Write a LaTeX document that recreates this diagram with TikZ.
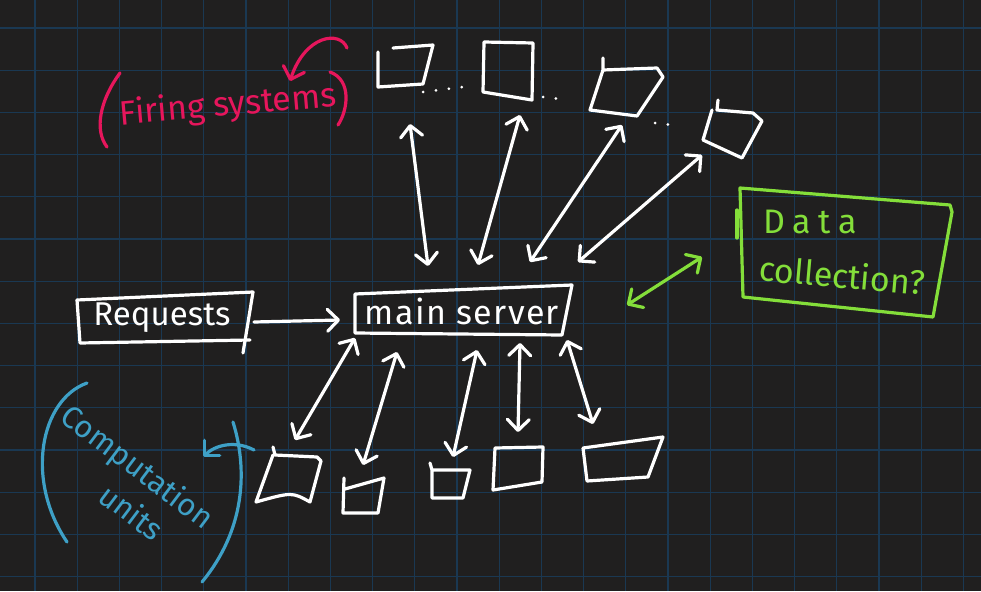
\documentclass[tikz,border=0pt]{standalone}
\usepackage{fontspec}
\setmainfont{Fira Sans}
\usetikzlibrary{arrows.meta}
\definecolor{bgc}{RGB}{32,31,31}
\definecolor{gridc}{RGB}{26,56,82}
\definecolor{pinkc}{RGB}{230,22,92}
\definecolor{bluec}{RGB}{62,160,198}
\definecolor{greenc}{RGB}{132,222,58}
\begin{document}
\begin{tikzpicture}[x=1pt,y=-1pt,
  ink/.style={white,line width=3.2pt,line cap=round,line join=round},
  pinkink/.style={ink,draw=pinkc},
  blueink/.style={ink,draw=bluec},
  greenink/.style={ink,draw=greenc},
  barb/.tip={Straight Barb[length=11pt,width=22pt,line cap=round,line join=round]},
  twoway/.style={ink,barb-barb},
  oneway/.style={ink,-barb},
  label/.style={inner sep=0pt,text=white,font=\fontsize{33}{36}\selectfont},
  dots/.style={white,line width=3pt,line cap=round,dash pattern=on 0pt off 13pt}]
\fill[bgc] (0,0) rectangle (981,591);
\useasboundingbox (0,0) rectangle (981,591);
\foreach \i in {0,...,22} \draw[gridc,line width=1.2pt] ({35+42.2*\i},0) -- ({35+42.2*\i},591);
\foreach \i in {0,...,13} \draw[gridc,line width=1.2pt] (0,{28+42.2*\i}) -- (981,{28+42.2*\i});

% ---------- top boxes (firing systems) ----------
\draw[ink] (378,52) -- (378,87) -- (423,84) -- (433,45) -- (393,48);
\draw[ink] (484,42) -- (533,43) -- (532,100) -- (483,92) -- cycle;
\draw[ink] (603,58) -- (603,70) -- (657,68) -- (663,77) -- (637,116) -- (590,110) -- (603,70);
\draw[ink] (718,100) -- (717,110) -- (753,113) -- (762,121) -- (742,158) -- (703,140) -- (712,110);
\draw[dots] (423,92) -- (470,86);
\draw[dots] (543,97) -- (560,99);
\draw[dots] (655,123) -- (680,126);

% ---------- main server & requests ----------
\draw[ink] (355,294) -- (572,285) -- (562,335) -- (355,333) -- cycle;
\node[label,font=\fontsize{34}{36}\selectfont\addfontfeatures{LetterSpace=4}] (ms) at (462,311) {main server};
\draw[ink] (77,300) -- (253,292) -- (243,353);
\draw[ink] (77,300) -- (80,343) -- (250,340);
\node[label] (rq) at (162,318) {Requests};
\coordinate (rqe) at (254,322);
\coordinate (mse) at (340,320);
\draw[oneway] (rqe) -- (mse);

% ---------- arrows to top boxes ----------
\coordinate (a1s) at (428,266); \coordinate (a1e) at (410,124);
\coordinate (a2s) at (478,265); \coordinate (a2e) at (520,115);
\coordinate (a3s) at (530,262); \coordinate (a3e) at (622,125);
\coordinate (a4s) at (578,262); \coordinate (a4e) at (702,155);
\draw[twoway] (a1s) -- (a1e);
\draw[twoway] (a2s) -- (a2e);
\draw[twoway] (a3s) -- (a3e);
\draw[twoway] (a4s) -- (a4e);

% ---------- bottom boxes (computation units) ----------
\draw[ink] (273,447) -- (275,455) -- (317,457) -- (321,461) -- (310,502) .. controls (292,492) .. (256,502) -- (273,455);
\draw[ink] (344,478) -- (343,513) -- (378,513) -- (384,478) -- (345,489);
\draw[ink] (430,463) -- (432,470) -- (470,470) -- (463,498) -- (432,498) -- (432,470);
\draw[ink] (495,448) -- (543,447) -- (542,482) -- (493,490) -- cycle;
\draw[ink] (583,448) -- (663,437) -- (648,477) -- (587,481) -- cycle;

\coordinate (b1s) at (355,338); \coordinate (b1e) at (295,440);
\coordinate (b2s) at (397,352); \coordinate (b2e) at (363,465);
\coordinate (b3s) at (477,350); \coordinate (b3e) at (453,457);
\coordinate (b4s) at (520,343); \coordinate (b4e) at (518,432);
\coordinate (b5s) at (567,340); \coordinate (b5e) at (593,424);
\draw[twoway] (b1s) -- (b1e);
\draw[twoway] (b2s) -- (b2e);
\draw[twoway] (b3s) -- (b3e);
\draw[twoway] (b4s) -- (b4e);
\draw[twoway] (b5s) -- (b5e);

% ---------- firing systems annotation ----------
\draw[pinkink] (120,73) .. controls (100,100) and (94,130) .. (107,147);
\draw[pinkink] (330,72) .. controls (352,80) and (348,110) .. (338,125);
\node[label,text=pinkc,rotate=5,font=\fontsize{34}{36}\selectfont] (fs) at (228,106) {Firing systems};
\coordinate (fa1) at (347,48); \coordinate (fa2) at (290,81);
\draw[pinkink,-barb] (fa1) .. controls (340,30) and (305,35) .. (fa2);

% ---------- computation units annotation ----------
\draw[blueink] (87,383) .. controls (40,400) and (25,480) .. (67,542);
\draw[blueink] (233,422) .. controls (248,470) and (245,530) .. (202,582);
\node[label,text=bluec,rotate=-37,align=center,font=\fontsize{31}{40}\selectfont] (cu) at (126,482) {Computation\\\hspace*{46pt}units};
\coordinate (ca1) at (254,450); \coordinate (ca2) at (203,457);
\draw[blueink,-barb] (ca1) .. controls (235,440) and (215,445) .. (ca2);

% ---------- data collection ----------
\draw[greenink] (740,188) -- (950,205) -- (952,212) -- (933,317) -- (743,297) -- cycle;
\draw[greenink] (737,210) -- (737,238);
\node[label,text=greenc,font=\fontsize{34}{36}\selectfont\addfontfeatures{LetterSpace=22}] (dc1) at (810,222) {Data};
\node[label,text=greenc,rotate=-5,font=\fontsize{34}{36}\selectfont] (dc2) at (842,275) {collection?};
\coordinate (g1) at (627,305); \coordinate (g2) at (702,257);
\draw[greenink,barb-barb] (g1) -- (g2);
\end{tikzpicture}
\end{document}
